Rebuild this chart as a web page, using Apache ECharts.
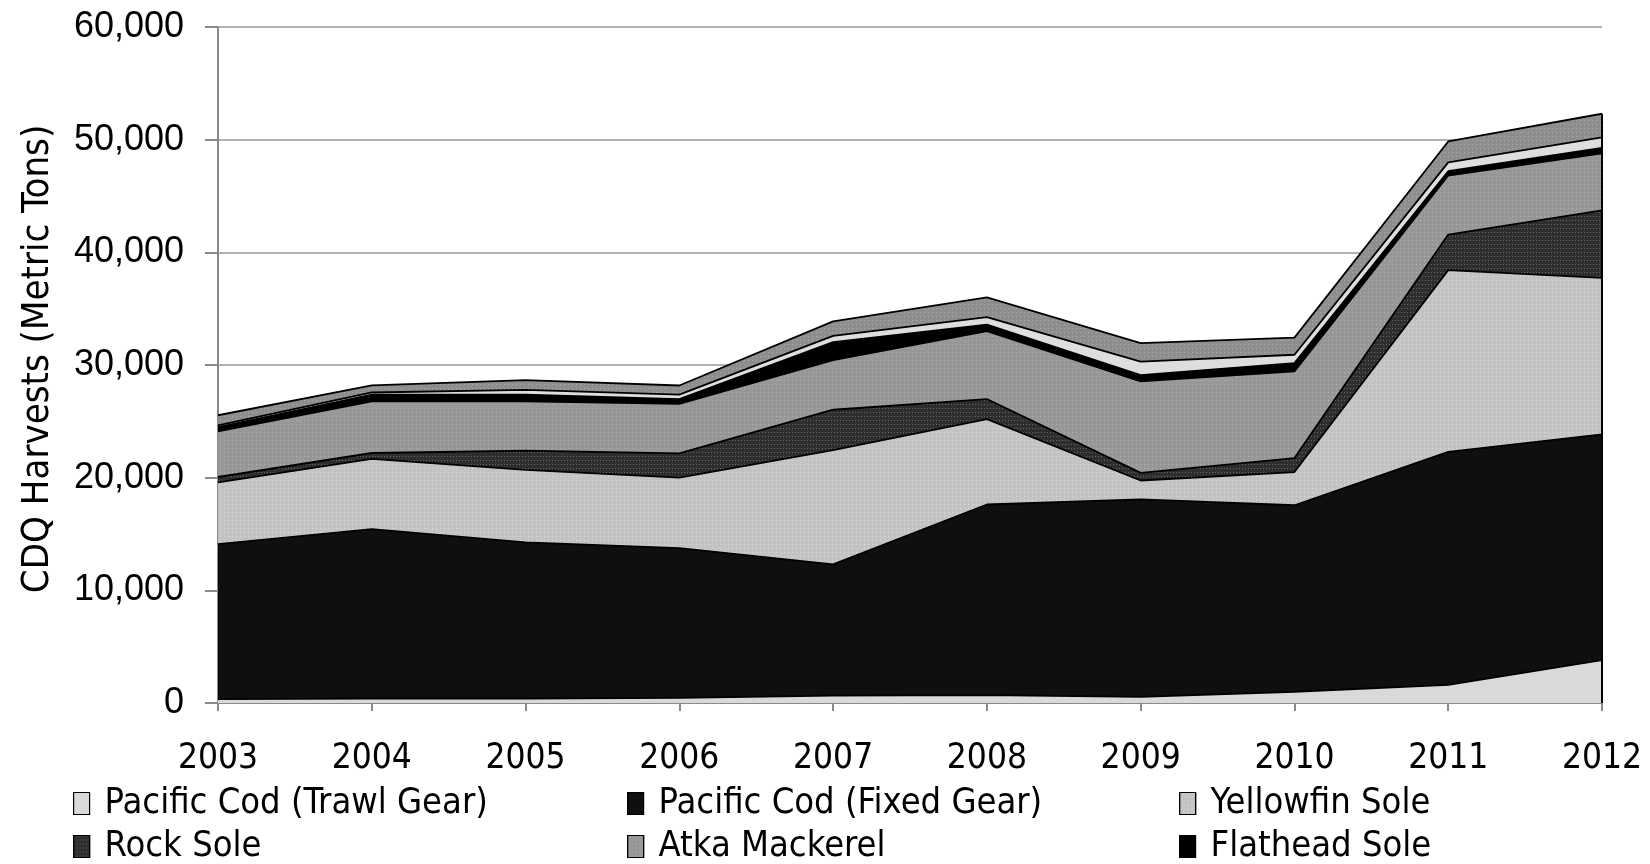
<!DOCTYPE html>
<html>
<head>
<meta charset="utf-8">
<script src="https://cdn.jsdelivr.net/npm/echarts@6/dist/echarts.min.js"></script>
<style>
html,body{margin:0;padding:0;background:#fff;}
#chart{width:1650px;height:864px;}
</style>
</head>
<body>
<div id="chart"></div>
<script>
// Data (metric tons)
const years = ['2003','2004','2005','2006','2007','2008','2009','2010','2011','2012'];
const pacificCodTrawl = [350, 400, 400, 450, 650, 700, 550, 1000, 1600, 3800];
const pacificCodFixed = [13750, 15040, 13850, 13300, 11650, 16920, 17520, 16550, 20690, 20050];
const yellowfinSole   = [5480, 6220, 6450, 6250, 10150, 7580, 1680, 2950, 16130, 13880];
const rockSole        = [480, 530, 1690, 2150, 3580, 1780, 680, 1240, 3160, 6000];
const atkaMackerel    = [4050, 4580, 4380, 4400, 4400, 6020, 8120, 7690, 5240, 5050];
const flatheadSole    = [380, 590, 590, 420, 1600, 590, 550, 740, 380, 480];
const otherFlatfish   = [150, 200, 440, 400, 550, 650, 1200, 740, 780, 940];
const otherGroundfish = [900, 630, 850, 810, 1290, 1760, 1650, 1520, 1860, 2100];
const yTicks = [0, 10000, 20000, 30000, 40000, 50000, 60000];

const narrow = "'DejaVu Sans Condensed','Liberation Sans',sans-serif";
const lastIdx = years.length - 1;
const grandTotal = [pacificCodTrawl, pacificCodFixed, yellowfinSole, rockSole, atkaMackerel,
  flatheadSole, otherFlatfish, otherGroundfish].reduce((s, a) => s + a[lastIdx], 0);

function mk(name, data, color, decal, extra) {
  const s = {
    name: name, type: 'line', stack: 'total', data: data,
    symbol: 'none', smooth: false,
    lineStyle: { color: '#000', width: 1.8 },
    itemStyle: { color: color, borderColor: '#000', borderWidth: 1.2 },
    areaStyle: { color: color, opacity: 1 },
    emphasis: { disabled: true }
  };
  if (decal) s.itemStyle.decal = decal;
  return Object.assign(s, extra || {});
}

const chart = echarts.init(document.getElementById('chart'), null, { renderer: 'canvas' });
const legendCommon = {
  orient: 'vertical', itemWidth: 16, itemHeight: 22, itemGap: 0, icon: 'rect', padding: 0,
  height: 120,
  textStyle: { fontFamily: narrow, fontSize: 36, color: '#000', lineHeight: 43, padding: [0, 0, 0, 10] },
  itemStyle: { borderColor: '#000', borderWidth: 1.2 },
  selectedMode: false, top: 782
};
chart.setOption({
  backgroundColor: '#fff',
  animation: false,
  grid: { left: 218, right: 48, top: 27, bottom: 161 },
  legend: [
    Object.assign({}, legendCommon, { left: 73, data: ['Pacific Cod (Trawl Gear)', 'Rock Sole'] }),
    Object.assign({}, legendCommon, { left: 627, data: ['Pacific Cod (Fixed Gear)', 'Atka Mackerel'] }),
    Object.assign({}, legendCommon, { left: 1179, data: ['Yellowfin Sole', 'Flathead Sole'] })
  ],
  xAxis: {
    type: 'category', data: years, boundaryGap: false,
    axisLine: { lineStyle: { color: '#8a8a8a', width: 2 } },
    axisTick: { show: true, length: 8, lineStyle: { color: '#8a8a8a', width: 2 } },
    axisLabel: { fontFamily: narrow, fontSize: 35, color: '#000', margin: 38 },
    splitLine: { show: false }
  },
  yAxis: {
    type: 'value', min: yTicks[0], max: yTicks[yTicks.length - 1], interval: yTicks[1] - yTicks[0],
    name: 'CDQ Harvests (Metric Tons)', nameLocation: 'middle', nameGap: 161, nameRotate: 90,
    nameTextStyle: { fontFamily: narrow, fontSize: 38, color: '#000', padding: [0, 0, 0, 12] },
    axisLine: { show: true, lineStyle: { color: '#8a8a8a', width: 2 } },
    axisTick: { show: true, length: 13, lineStyle: { color: '#8a8a8a', width: 2 } },
    axisLabel: { fontFamily: "'Liberation Sans',Arial,sans-serif", fontSize: 36, color: '#000', margin: 34,
      formatter: v => v.toLocaleString('en-US') },
    splitLine: { show: true, lineStyle: { color: '#999', width: 1.5 } }
  },
  series: [
    mk('Pacific Cod (Trawl Gear)', pacificCodTrawl, '#d9d9d9'),
    mk('Pacific Cod (Fixed Gear)', pacificCodFixed, '#0f0f0f'),
    mk('Yellowfin Sole', yellowfinSole, '#c3c3c3',
      { symbol: 'rect', symbolSize: 1, dashArrayX: [[1, 3]], dashArrayY: [1, 3], color: 'rgba(225,225,225,0.8)' }),
    mk('Rock Sole', rockSole, '#2e2e2e',
      { symbol: 'rect', symbolSize: 1, dashArrayX: [[1, 2]], dashArrayY: [1, 3], color: 'rgba(110,110,110,0.9)' }),
    mk('Atka Mackerel', atkaMackerel, '#979797',
      { symbol: 'rect', symbolSize: 1, dashArrayX: [[1, 3]], dashArrayY: [1, 3], color: 'rgba(185,185,185,0.8)' }),
    mk('Flathead Sole', flatheadSole, '#000000'),
    mk('Other Flatfish', otherFlatfish, '#dedede'),
    mk('Other Groundfish', otherGroundfish, '#8e8e8e',
      { symbol: 'rect', symbolSize: 1, dashArrayX: [[1, 3]], dashArrayY: [1, 3], color: 'rgba(180,180,180,0.8)' },
      { markLine: { silent: true, symbol: 'none', label: { show: false },
          lineStyle: { color: '#000', width: 2, type: 'solid' },
          data: [[{ coord: [years[lastIdx], 0] }, { coord: [years[lastIdx], grandTotal] }]] } })
  ]
});
</script>
</body>
</html>
